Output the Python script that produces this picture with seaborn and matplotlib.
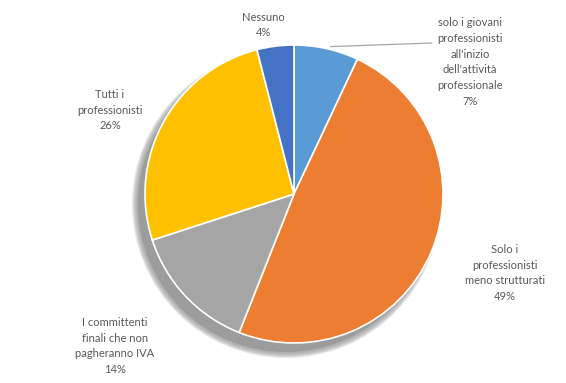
import numpy as np
import matplotlib
matplotlib.use("Agg")
import matplotlib.pyplot as plt
from matplotlib.patches import Circle
import seaborn as sns

# Survey answers, clockwise from the top
categories = [
    "solo i giovani\nprofessionisti\nall'inizio\ndell'attività\nprofessionale",
    "Solo i\nprofessionisti\nmeno strutturati",
    "I committenti\nfinali che non\npagheranno IVA",
    "Tutti i\nprofessionisti",
    "Nessuno",
]
shares = [7, 49, 14, 26, 4]
colors = ["#5B9BD5", "#ED7D31", "#A5A5A5", "#FFC000", "#4472C4"]

sns.set_theme(style="white")
plt.rcParams["font.family"] = ["Lato", "DejaVu Sans"]

W, H = 566, 383
fig = plt.figure(figsize=(W / 100, H / 100), dpi=100)
ax = fig.add_axes([0, 0, 1, 1])
ax.set_xlim(0, W)
ax.set_ylim(0, H)
ax.set_aspect("equal")
ax.axis("off")

cx, cy, r = 294, H - 194, 149

# soft drop shadow behind the pie
sx, sy = cx - 8, cy - 10
for k in range(6):
    ax.add_patch(Circle((sx, sy), r + 5 - k, color="#9a9a9a",
                        alpha=0.22, lw=0, zorder=1))
ax.add_patch(Circle((sx, sy), r - 1, color="#9c9c9c", lw=0, zorder=1))

wedges, _ = ax.pie(shares, colors=colors, startangle=90, counterclock=False,
                   center=(cx, cy), radius=r, frame=True,
                   wedgeprops=dict(edgecolor="white", linewidth=1.2, zorder=2))
ax.set_xlim(0, W)
ax.set_ylim(0, H)
ax.axis("off")

txt = dict(ha="center", va="center", fontsize=8, color="#595959",
           linespacing=1.55, zorder=5)
label_pos = [(470, H - 62), (505, H - 273), (115, H - 346), (110, H - 110),
             (263, H - 25)]
for name, val, (tx, ty) in zip(categories, shares, label_pos):
    ax.text(tx, ty, f"{name}\n{val}%", **txt)

# leader line for the narrow first wedge
w0 = wedges[0]
mid = np.deg2rad((w0.theta1 + w0.theta2) / 2)
ex, ey = cx + r * np.cos(mid), cy + r * np.sin(mid)
ax.plot([ex + 4, 432], [ey + 2, H - 43], color="#a6a6a6", lw=0.9, zorder=4)

fig.savefig("out.png", dpi=100, facecolor="white")
